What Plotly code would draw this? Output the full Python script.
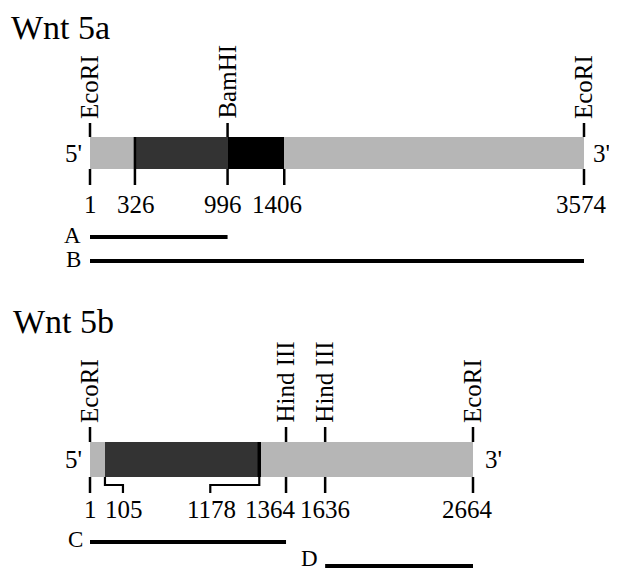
import plotly.graph_objects as go

# ---------------- data ----------------
# Wnt 5a
wnt5a_title = "Wnt 5a"
wnt5a_length = 3574
wnt5a_utr = [1, 3574]                      # whole cDNA (light)
wnt5a_dark = [326, 996]                    # coding region, dark grey part
wnt5a_black = [996, 1406]                  # coding region, black part
wnt5a_site_names = ["EcoRI", "BamHI", "EcoRI"]
wnt5a_site_pos = [1, 996, 3574]
wnt5a_tick_pos = [1, 326, 996, 1406, 3574]
wnt5a_tick_labels = ["1", "326", "996", "1406", "3574"]
wnt5a_frag_names = ["A", "B"]
wnt5a_frag_start = [1, 1]
wnt5a_frag_end = [996, 3574]

# Wnt 5b
wnt5b_title = "Wnt 5b"
wnt5b_length = 2664
wnt5b_utr = [1, 2664]
wnt5b_dark = [105, 1178]
wnt5b_site_names = ["EcoRI", "Hind III", "Hind III", "EcoRI"]
wnt5b_site_pos = [1, 1364, 1636, 2664]
wnt5b_tick_pos = [1, 105, 1178, 1364, 1636, 2664]
wnt5b_tick_labels = ["1", "105", "1178", "1364", "1636", "2664"]
wnt5b_frag_names = ["C", "D"]
wnt5b_frag_start = [1, 1636]
wnt5b_frag_end = [1364, 2664]

# ---------------- layout / style ----------------
# The page body has an 8px margin, so the figure occupies screen x 8..617, y 8..571.
OFF = 8
SW, SH = 617, 571
W, H = SW - OFF, SH - OFF
FONT = "Liberation Serif, Times New Roman, Times, serif"
LIGHT = "#b6b6b6"
DARK = "#333333"
BLACK = "#000000"
TICK_W = 2.5
FRAG_W = 4
LAB = 25      # number labels, 5'/3'
LET = 23      # fragment letters
SITE = 25     # rotated enzyme labels
TITLE = 34

fig = go.Figure()


def axis_range(start_bp, end_bp, px_start, px_end):
    # px values are screen pixels; figure spans OFF..SW
    s = (px_end - px_start) / (end_bp - start_bp)
    return [start_bp - (px_start - OFF) / s, end_bp + (SW - px_end) / s]


def mid_for_baseline(baseline, size):
    # vertical centre of a text box whose baseline sits at `baseline`
    return baseline - 0.3375 * size


def seg_xy(xs, y0, y1):
    X, Y = [], []
    for x in xs:
        X += [x, x, None]
        Y += [y0, y1, None]
    return X, Y


def add_line(xs, ys, xa, width, color=BLACK):
    fig.add_trace(go.Scatter(x=xs, y=ys, mode="lines", xaxis=xa, yaxis="y",
                             line=dict(color=color, width=width),
                             hoverinfo="skip", showlegend=False))


def add_bar(span, yc, h, color, xa):
    fig.add_trace(go.Bar(x=[span[1] - span[0]], base=[span[0]], y=[yc],
                         orientation="h", width=h, xaxis=xa, yaxis="y",
                         marker=dict(color=color, line=dict(width=0)),
                         hoverinfo="skip", showlegend=False))


def text(x, y, t, xref, size, **kw):
    fig.add_annotation(x=x, y=y, xref=xref, yref="y", text=t, showarrow=False,
                       borderpad=0,
                       font=dict(family=FONT, size=size, color=BLACK), **kw)


# ---------- Wnt 5a (axis x) ----------
a_top, a_bot = 137, 169
a_yc = (a_top + a_bot) / 2
add_bar(wnt5a_utr, a_yc, a_bot - a_top, LIGHT, "x")
add_bar(wnt5a_dark, a_yc, a_bot - a_top, DARK, "x")
add_bar(wnt5a_black, a_yc, a_bot - a_top, BLACK, "x")
X, Y = seg_xy([wnt5a_dark[0]], a_top, a_bot)
add_line(X, Y, "x", TICK_W)
X, Y = seg_xy(wnt5a_site_pos, 123, a_top)
add_line(X, Y, "x", TICK_W)
X, Y = seg_xy(wnt5a_tick_pos, a_bot, 185)
add_line(X, Y, "x", TICK_W)
for name, s, e, yv, bl in zip(wnt5a_frag_names, wnt5a_frag_start, wnt5a_frag_end,
                              [237, 261], [243, 267.5]):
    add_line([s, e], [yv, yv], "x", FRAG_W)
    text(s, mid_for_baseline(bl, LET), name, "x", LET, xanchor="right", yanchor="middle",
         xshift=-8)
for name, p in zip(wnt5a_site_names, wnt5a_site_pos):
    text(p, 120, name, "x", SITE, textangle=-90, xanchor="center", yanchor="bottom", xshift=-1)
for lab, p in zip(wnt5a_tick_labels, wnt5a_tick_pos):
    shift = {"326": 1, "996": -5, "1406": -7, "3574": -3}.get(lab, 0)
    text(p, mid_for_baseline(213, LAB), lab, "x", LAB, xanchor="center", yanchor="middle",
         xshift=shift)
text(wnt5a_utr[0], a_yc, "5'", "x", LAB, xanchor="right", yanchor="middle", xshift=-7)
text(wnt5a_utr[1], a_yc, "3'", "x", LAB, xanchor="left", yanchor="middle", xshift=8)
fig.add_annotation(x=(10 - OFF) / W, y=mid_for_baseline(38.5, TITLE), xref="paper", yref="y",
                   text=wnt5a_title, showarrow=False, xanchor="left", yanchor="middle",
                   borderpad=0, font=dict(family=FONT, size=TITLE, color=BLACK))

# ---------- Wnt 5b (axis x2) ----------
b_top, b_bot = 442, 477
b_yc = (b_top + b_bot) / 2
add_bar(wnt5b_utr, b_yc, b_bot - b_top, LIGHT, "x2")
add_bar(wnt5b_dark, b_yc, b_bot - b_top, DARK, "x2")
X, Y = seg_xy([wnt5b_dark[1]], b_top, b_bot)
add_line(X, Y, "x2", 3.5)
X, Y = seg_xy(wnt5b_site_pos, 427, b_top)
add_line(X, Y, "x2", TICK_W)
straight = [p for p in wnt5b_tick_pos if p not in wnt5b_dark]
X, Y = seg_xy(straight, b_bot, 493)
add_line(X, Y, "x2", TICK_W)
bracket_px = {wnt5b_dark[0]: 18, wnt5b_dark[1]: -49}
for p, dx in bracket_px.items():
    fig.add_shape(type="path", xref="x2", yref="y", xsizemode="pixel", xanchor=p,
                  path=f"M 0 {b_bot} L 0 485 L {dx} 485 L {dx} 493",
                  line=dict(color=BLACK, width=2.2))
for name, s, e, yv, bl in zip(wnt5b_frag_names, wnt5b_frag_start, wnt5b_frag_end,
                              [542, 566], [547, 566]):
    add_line([s, e], [yv, yv], "x2", FRAG_W)
    text(s, mid_for_baseline(bl, LET), name, "x2", LET, xanchor="right", yanchor="middle",
         xshift=-6)
for name, p in zip(wnt5b_site_names, wnt5b_site_pos):
    text(p, 424, name, "x2", SITE, textangle=-90, xanchor="center", yanchor="bottom", xshift=-1)
label_shift_b = {"105": 19, "1178": -48, "1364": -16, "1636": 0, "2664": -6}
for lab, p in zip(wnt5b_tick_labels, wnt5b_tick_pos):
    text(p, mid_for_baseline(518, LAB), lab, "x2", LAB, xanchor="center", yanchor="middle",
         xshift=label_shift_b.get(lab, 0))
text(wnt5b_utr[0], b_yc, "5'", "x2", LAB, xanchor="right", yanchor="middle", xshift=-7)
text(wnt5b_utr[1], b_yc, "3'", "x2", LAB, xanchor="left", yanchor="middle", xshift=11)
fig.add_annotation(x=(12 - OFF) / W, y=mid_for_baseline(333, TITLE), xref="paper", yref="y",
                   text=wnt5b_title, showarrow=False, xanchor="left", yanchor="middle",
                   borderpad=0, font=dict(family=FONT, size=TITLE, color=BLACK))

fig.update_layout(
    width=W, height=H, margin=dict(l=0, r=0, t=0, b=0),
    paper_bgcolor="white", plot_bgcolor="white", barmode="overlay", bargap=0,
    showlegend=False,
    xaxis=dict(range=axis_range(1, wnt5a_length, 90, 584), visible=False,
               domain=[0, 1], anchor="y", fixedrange=True),
    xaxis2=dict(range=axis_range(1, wnt5b_length, 90, 473), visible=False,
                domain=[0, 1], anchor="y", overlaying="x", fixedrange=True),
    # y axis in screen pixels (top = OFF, bottom = SH)
    yaxis=dict(range=[SH, OFF], visible=False, domain=[0, 1], fixedrange=True),
)

fig.write_html("out.html")
